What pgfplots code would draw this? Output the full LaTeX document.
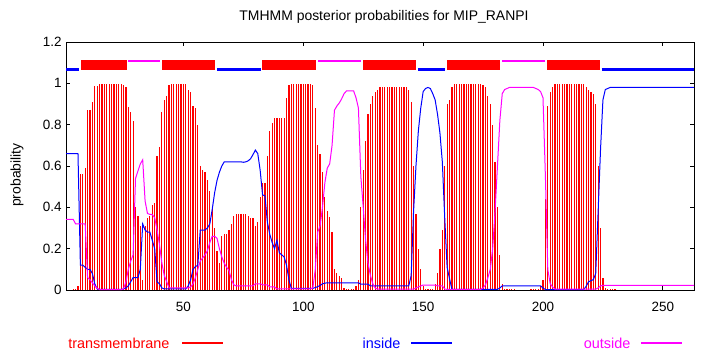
\documentclass[border=0pt]{standalone}
\usepackage{pgfplots}
\pgfplotsset{compat=1.18}
\usepackage{pgfplotstable}
\usepackage{fontspec}
\setmainfont{Liberation Sans}
\definecolor{tmred}{RGB}{255,0,0}
\definecolor{inblue}{RGB}{0,0,255}
\definecolor{outmag}{RGB}{255,0,255}

\pgfplotstableread{
r tm in out
1 0 0.66 0.342
2 0 0.66 0.342
3 0 0.66 0.342
4 0.005 0.66 0.342
5 0.005 0.66 0.32
6 0.02 0.66 0.32
7 0.56 0.12 0.32
8 0.56 0.12 0.32
9 0.59 0.11 0.32
10 0.87 0.10 0.06
11 0.87 0.10 0.05
12 0.91 0.08 0.035
13 0.985 0.03 0.02
14 0.985 0.005 0.008
15 0.997 0.003 0.002
16 0.997 0.003 0.002
17 0.997 0.003 0.002
18 0.997 0.003 0.002
19 0.997 0.003 0.002
20 0.997 0.003 0.002
21 0.997 0.003 0.002
22 0.997 0.003 0.002
23 0.997 0.003 0.002
24 0.997 0.003 0.002
25 0.99 0.005 0.005
26 0.98 0.01 0.04
27 0.885 0.02 0.10
28 0.86 0.04 0.14
29 0.82 0.06 0.17
30 0.40 0.06 0.54
31 0.36 0.06 0.575
32 0.31 0.10 0.61
33 0.05 0.32 0.63
34 0.31 0.29 0.43
35 0.35 0.28 0.37
36 0.36 0.28 0.366
37 0.41 0.24 0.365
38 0.42 0.20 0.35
39 0.65 0.04 0.29
40 0.69 0.03 0.22
41 0.86 0.01 0.13
42 0.92 0.005 0.07
43 0.94 0.005 0.04
44 0.99 0.005 0.01
45 0.997 0.005 0.01
46 0.997 0.005 0.01
47 0.997 0.005 0.01
48 0.997 0.005 0.01
49 0.997 0.005 0.01
50 0.997 0.005 0.01
51 0.997 0.005 0.01
52 0.97 0.02 0.01
53 0.96 0.05 0.015
54 0.89 0.10 0.03
55 0.88 0.113 0.06
56 0.80 0.12 0.10
57 0.60 0.29 0.14
58 0.58 0.29 0.155
59 0.57 0.29 0.17
60 0.53 0.30 0.19
61 0.48 0.32 0.23
62 0.39 0.39 0.26
63 0.30 0.47 0.26
64 0.19 0.53 0.25
65 0.13 0.57 0.20
66 0.26 0.60 0.16
67 0.27 0.62 0.13
68 0.27 0.62 0.11
69 0.29 0.62 0.095
70 0.32 0.62 0.05
71 0.36 0.62 0.025
72 0.37 0.62 0.02
73 0.37 0.62 0.02
74 0.37 0.62 0.02
75 0.37 0.618 0.02
76 0.37 0.62 0.02
77 0.36 0.625 0.02
78 0.35 0.635 0.02
79 0.35 0.655 0.02
80 0.31 0.677 0.03
81 0.33 0.66 0.03
82 0.45 0.58 0.03
83 0.52 0.46 0.025
84 0.52 0.456 0.025
85 0.65 0.33 0.025
86 0.77 0.27 0.015
87 0.81 0.23 0.015
88 0.83 0.20 0.015
89 0.83 0.24 0.005
90 0.83 0.18 0.005
91 0.83 0.17 0.005
92 0.83 0.16 0.005
93 0.93 0.12 0.005
94 0.99 0.05 0.005
95 0.995 0.008 0.005
96 0.995 0.008 0.005
97 0.995 0.008 0.005
98 0.995 0.008 0.005
99 0.995 0.008 0.005
100 0.995 0.008 0.005
101 0.995 0.008 0.005
102 0.995 0.008 0.005
103 0.995 0.008 0.005
104 0.99 0.008 0.01
105 0.88 0.012 0.10
106 0.70 0.016 0.28
107 0.66 0.022 0.31
108 0.57 0.03 0.40
109 0.45 0.033 0.52
110 0.38 0.035 0.59
111 0.355 0.035 0.61
112 0.28 0.035 0.70
113 0.10 0.035 0.87
114 0.08 0.035 0.89
115 0.07 0.035 0.905
116 0.06 0.035 0.925
117 0.01 0.035 0.95
118 0.005 0.035 0.963
119 0.005 0.035 0.963
120 0.005 0.035 0.963
121 0.005 0.035 0.963
122 0.02 0.035 0.93
123 0.05 0.035 0.88
124 0.40 0.028 0.55
125 0.58 0.028 0.40
126 0.72 0.028 0.24
127 0.85 0.028 0.13
128 0.90 0.02 0.07
129 0.94 0.02 0.03
130 0.96 0.02 0.01
131 0.97 0.02 0.004
132 0.98 0.02 0.004
133 0.98 0.02 0.004
134 0.98 0.02 0.004
135 0.98 0.02 0.004
136 0.98 0.02 0.004
137 0.98 0.02 0.004
138 0.98 0.02 0.004
139 0.98 0.02 0.004
140 0.98 0.02 0.004
141 0.98 0.02 0.004
142 0.98 0.02 0.004
143 0.98 0.02 0.004
144 0.97 0.02 0.004
145 0.91 0.07 0.004
146 0.60 0.38 0.004
147 0.37 0.60 0.01
148 0.20 0.77 0.015
149 0.10 0.88 0.02
150 0.02 0.96 0.024
151 0.005 0.975 0.024
152 0.005 0.98 0.024
153 0.005 0.975 0.024
154 0.005 0.95 0.024
155 0.03 0.92 0.024
156 0.08 0.85 0.02
157 0.20 0.76 0.02
158 0.29 0.62 0.02
159 0.60 0.35 0.005
160 0.90 0.11 0.003
161 0.92 0.055 0.003
162 0.98 0.003 0.003
163 0.997 0.003 0.003
164 0.997 0.003 0.003
165 0.997 0.003 0.003
166 0.997 0.003 0.003
167 0.997 0.003 0.003
168 0.997 0.003 0.003
169 0.997 0.003 0.003
170 0.997 0.003 0.003
171 0.997 0.003 0.003
172 0.997 0.003 0.003
173 0.997 0.003 0.003
174 0.997 0.003 0.003
175 0.99 0.003 0.01
176 0.98 0.003 0.025
177 0.94 0.003 0.06
178 0.90 0.003 0.10
179 0.80 0.003 0.20
180 0.62 0.003 0.38
181 0.40 0.003 0.60
182 0.17 0.01 0.82
183 0.03 0.02 0.95
184 0.005 0.02 0.97
185 0.005 0.02 0.975
186 0.005 0.02 0.98
187 0.005 0.02 0.98
188 0.005 0.02 0.98
189 0 0.02 0.98
190 0 0.02 0.98
191 0 0.02 0.98
192 0 0.02 0.98
193 0 0.02 0.98
194 0 0.02 0.98
195 0.005 0.02 0.98
196 0.005 0.02 0.98
197 0.005 0.02 0.975
198 0.005 0.02 0.97
199 0.02 0.02 0.96
200 0.05 0.01 0.93
201 0.44 0.002 0.55
202 0.89 0.002 0.10
203 0.96 0.002 0.03
204 0.98 0.002 0.015
205 0.997 0.002 0.004
206 0.997 0.002 0.004
207 0.997 0.002 0.004
208 0.997 0.002 0.004
209 0.997 0.002 0.004
210 0.997 0.002 0.004
211 0.997 0.002 0.004
212 0.997 0.002 0.004
213 0.997 0.002 0.004
214 0.997 0.002 0.004
215 0.997 0.002 0.004
216 0.997 0.002 0.004
217 0.997 0.002 0.004
218 0.98 0.018 0.004
219 0.97 0.04 0.004
220 0.96 0.045 0.004
221 0.95 0.05 0.004
222 0.90 0.08 0.004
223 0.60 0.38 0.01
224 0.30 0.68 0.02
225 0.06 0.92 0.022
226 0.01 0.97 0.022
227 0.005 0.975 0.022
228 0.005 0.98 0.022
229 0.005 0.98 0.022
230 0.005 0.98 0.022
231 0 0.98 0.022
232 0 0.98 0.022
233 0 0.98 0.022
234 0 0.98 0.022
235 0 0.98 0.022
236 0 0.98 0.022
237 0 0.98 0.022
238 0 0.98 0.022
239 0 0.98 0.022
240 0 0.98 0.022
241 0 0.98 0.022
242 0 0.98 0.022
243 0 0.98 0.022
244 0 0.98 0.022
245 0 0.98 0.022
246 0 0.98 0.022
247 0 0.98 0.022
248 0 0.98 0.022
249 0 0.98 0.022
250 0 0.98 0.022
251 0 0.98 0.022
252 0 0.98 0.022
253 0 0.98 0.022
254 0 0.98 0.022
255 0 0.98 0.022
256 0 0.98 0.022
257 0 0.98 0.022
258 0 0.98 0.022
259 0 0.98 0.022
260 0 0.98 0.022
261 0 0.98 0.022
262 0 0.98 0.022
263 0 0.98 0.022
}\probs

\begin{document}
\begin{tikzpicture}[x=1bp,y=1bp]
\useasboundingbox (0,0) rectangle (710,350);
\begin{axis}[
  at={(66bp,60bp)}, anchor=south west,
  scale only axis, width=628bp, height=248bp,
  xmin=1, xmax=263, ymin=0, ymax=1.2,
  xtick={50,100,150,200,250},
  ytick={0,0.2,0.4,0.6,0.8,1,1.2},
  yticklabels={0,0.2,0.4,0.6,0.8,1,1.2},
  tick align=inside, major tick length=4bp,
  tick style={black, line width=0.8bp},
  axis line style={line width=0.9bp},
  every tick label/.append style={font=\fontsize{13.5}{15}\selectfont},
  /pgf/number format/assume math mode=true,
  xticklabel style={yshift=-9bp},
  yticklabel style={xshift=-1bp},
  clip=true,
]
\addplot[ycomb, tmred, line width=1.2bp, mark=none] table[x=r,y=tm]{\probs};
\addplot[inblue, line width=1bp, mark=none] table[x=r,y=in]{\probs};
\addplot[outmag, line width=1bp, mark=none] table[x=r,y=out]{\probs};
% topology
\addplot[inblue, line width=3bp, mark=none] coordinates {(1,1.068) (6.5,1.068)};
\addplot[fill=tmred, draw=none, mark=none] coordinates {(7.4,1.064) (26.5,1.064) (26.5,1.113) (7.4,1.113)};
\addplot[outmag, line width=2bp, mark=none] coordinates {(27,1.108) (40.3,1.108)};
\addplot[fill=tmred, draw=none, mark=none] coordinates {(41.1,1.064) (63.2,1.064) (63.2,1.113) (41.1,1.113)};
\addplot[inblue, line width=3bp, mark=none] coordinates {(64,1.068) (82.4,1.068)};
\addplot[fill=tmred, draw=none, mark=none] coordinates {(82.8,1.064) (105.3,1.064) (105.3,1.113) (82.8,1.113)};
\addplot[outmag, line width=2bp, mark=none] coordinates {(106.1,1.108) (124,1.108)};
\addplot[fill=tmred, draw=none, mark=none] coordinates {(124.9,1.064) (146.9,1.064) (146.9,1.113) (124.9,1.113)};
\addplot[inblue, line width=3bp, mark=none] coordinates {(147.8,1.068) (159,1.068)};
\addplot[fill=tmred, draw=none, mark=none] coordinates {(159.9,1.064) (181.9,1.064) (181.9,1.113) (159.9,1.113)};
\addplot[outmag, line width=2bp, mark=none] coordinates {(182.8,1.108) (200.7,1.108)};
\addplot[fill=tmred, draw=none, mark=none] coordinates {(201.6,1.064) (223.6,1.064) (223.6,1.113) (201.6,1.113)};
\addplot[inblue, line width=3bp, mark=none] coordinates {(224.5,1.068) (263,1.068)};
\end{axis}
\node[font=\fontsize{14}{16}\selectfont] at (384,333) {TMHMM posterior probabilities for MIP\_RANPI};
\node[font=\fontsize{14}{16}\selectfont, rotate=90] at (17,175) {probability};
\node[font=\fontsize{14.5}{16}\selectfont, text=tmred, anchor=east] at (173,7) {transmembrane};
\draw[draw=tmred, line width=1.3bp] (182,7) -- (223,7);
\node[font=\fontsize{14.5}{16}\selectfont, text=inblue, anchor=east] at (404,7) {inside};
\draw[draw=inblue, line width=1.3bp] (411,7) -- (452,7);
\node[font=\fontsize{14.5}{16}\selectfont, text=outmag, anchor=east] at (634,7) {outside};
\draw[draw=outmag, line width=1.3bp] (641,7) -- (682,7);
\end{tikzpicture}
\end{document}
